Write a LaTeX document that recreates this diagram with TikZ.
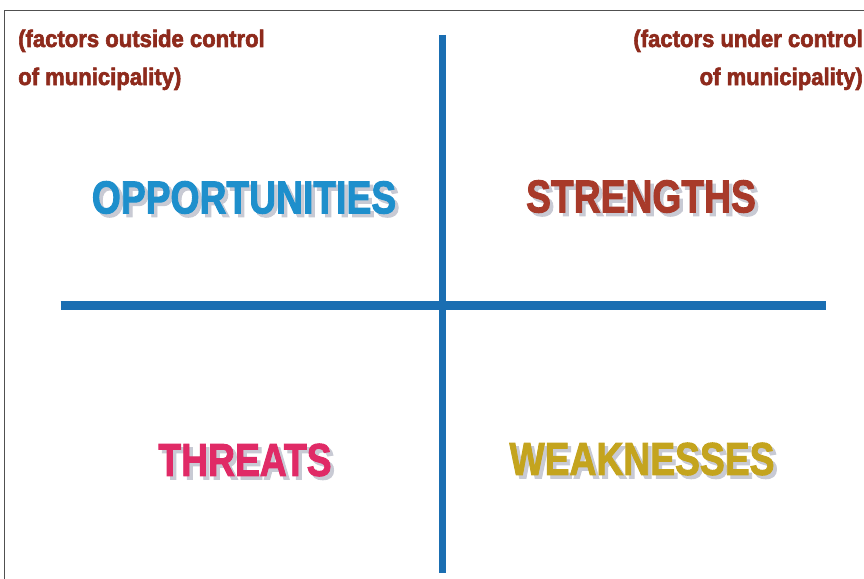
\documentclass[tikz,border=0pt]{standalone}
\usepackage{fontspec}
\newfontfamily\heavyfont[FakeBold=2.2]{Liberation Sans}
\newfontfamily\notefont[FakeBold=2.6]{Liberation Sans}
\definecolor{framegray}{HTML}{505050}
\definecolor{axisblue}{HTML}{1A6EB2}
\definecolor{oppblue}{HTML}{1E8FCC}
\definecolor{strbrown}{HTML}{A83A2A}
\definecolor{thrpink}{HTML}{E02A66}
\definecolor{weakgold}{HTML}{C4A41E}
\definecolor{notebrown}{HTML}{8E2A1C}
\definecolor{shadowgray}{HTML}{C8CAD4}
\newcommand{\swotword}[1]{\scalebox{0.81}[1]{#1}}
\newcommand{\noteline}[1]{\scalebox{0.92}[1]{#1}}
\begin{document}
\begin{tikzpicture}[x=1pt,y=-1pt,
  bigword/.style={inner sep=0pt, font=\heavyfont\bfseries\fontsize{46}{46}\selectfont},
  shadowword/.style={bigword, text=shadowgray},
  note/.style={inner sep=0pt, text=notebrown, font=\notefont\bfseries\fontsize{24}{24}\selectfont},
  axis/.style={draw=axisblue},
  framestyle/.style={draw=framegray, line width=1.5pt}]
\useasboundingbox (0,0) rectangle (864,578);
\fill[white] (0,0) rectangle (864,578);
% frame
\coordinate (fbl) at (4.5,580);
\coordinate (ftl) at (4.5,10.5);
\coordinate (ftr) at (866,10.5);
\draw[framestyle] (fbl) -- (ftl) -- (ftr);
% axes
\coordinate (vtop) at (442.5,35);
\coordinate (vbot) at (442.5,573);
\coordinate (hleft) at (60.5,305.5);
\coordinate (hright) at (826,305.5);
\draw[axis, line width=7pt] (vtop) -- (vbot);
\draw[axis, line width=8.5pt] (hleft) -- (hright);
% shadows
\node[shadowword] (opps) at (247.5,201) {\swotword{OPPORTUNITIES}};
\node[shadowword] (strs) at (644.5,200) {\swotword{STRENGTHS}};
\node[shadowword] (thrs) at (248.5,463.5) {\swotword{THREATS}};
\node[shadowword] (weas) at (645.5,462.5) {\swotword{WEAKNESSES}};
% words
\node[bigword, text=oppblue] (opp) at (244,197.5) {\swotword{OPPORTUNITIES}};
\node[bigword, text=strbrown] (str) at (641,196.5) {\swotword{STRENGTHS}};
\node[bigword, text=thrpink] (thr) at (245,460) {\swotword{THREATS}};
\node[bigword, text=weakgold] (wea) at (642,459) {\swotword{WEAKNESSES}};
% notes
\node[note, anchor=base west] (ol1) at (18,47) {\noteline{(factors outside control}};
\node[note, anchor=base west] (ol2) at (18,85) {\noteline{of municipality)}};
\node[note, anchor=base east] (ul1) at (863,47) {\noteline{(factors under control}};
\node[note, anchor=base east] (ul2) at (863,85) {\noteline{of municipality)}};
\end{tikzpicture}
\end{document}
